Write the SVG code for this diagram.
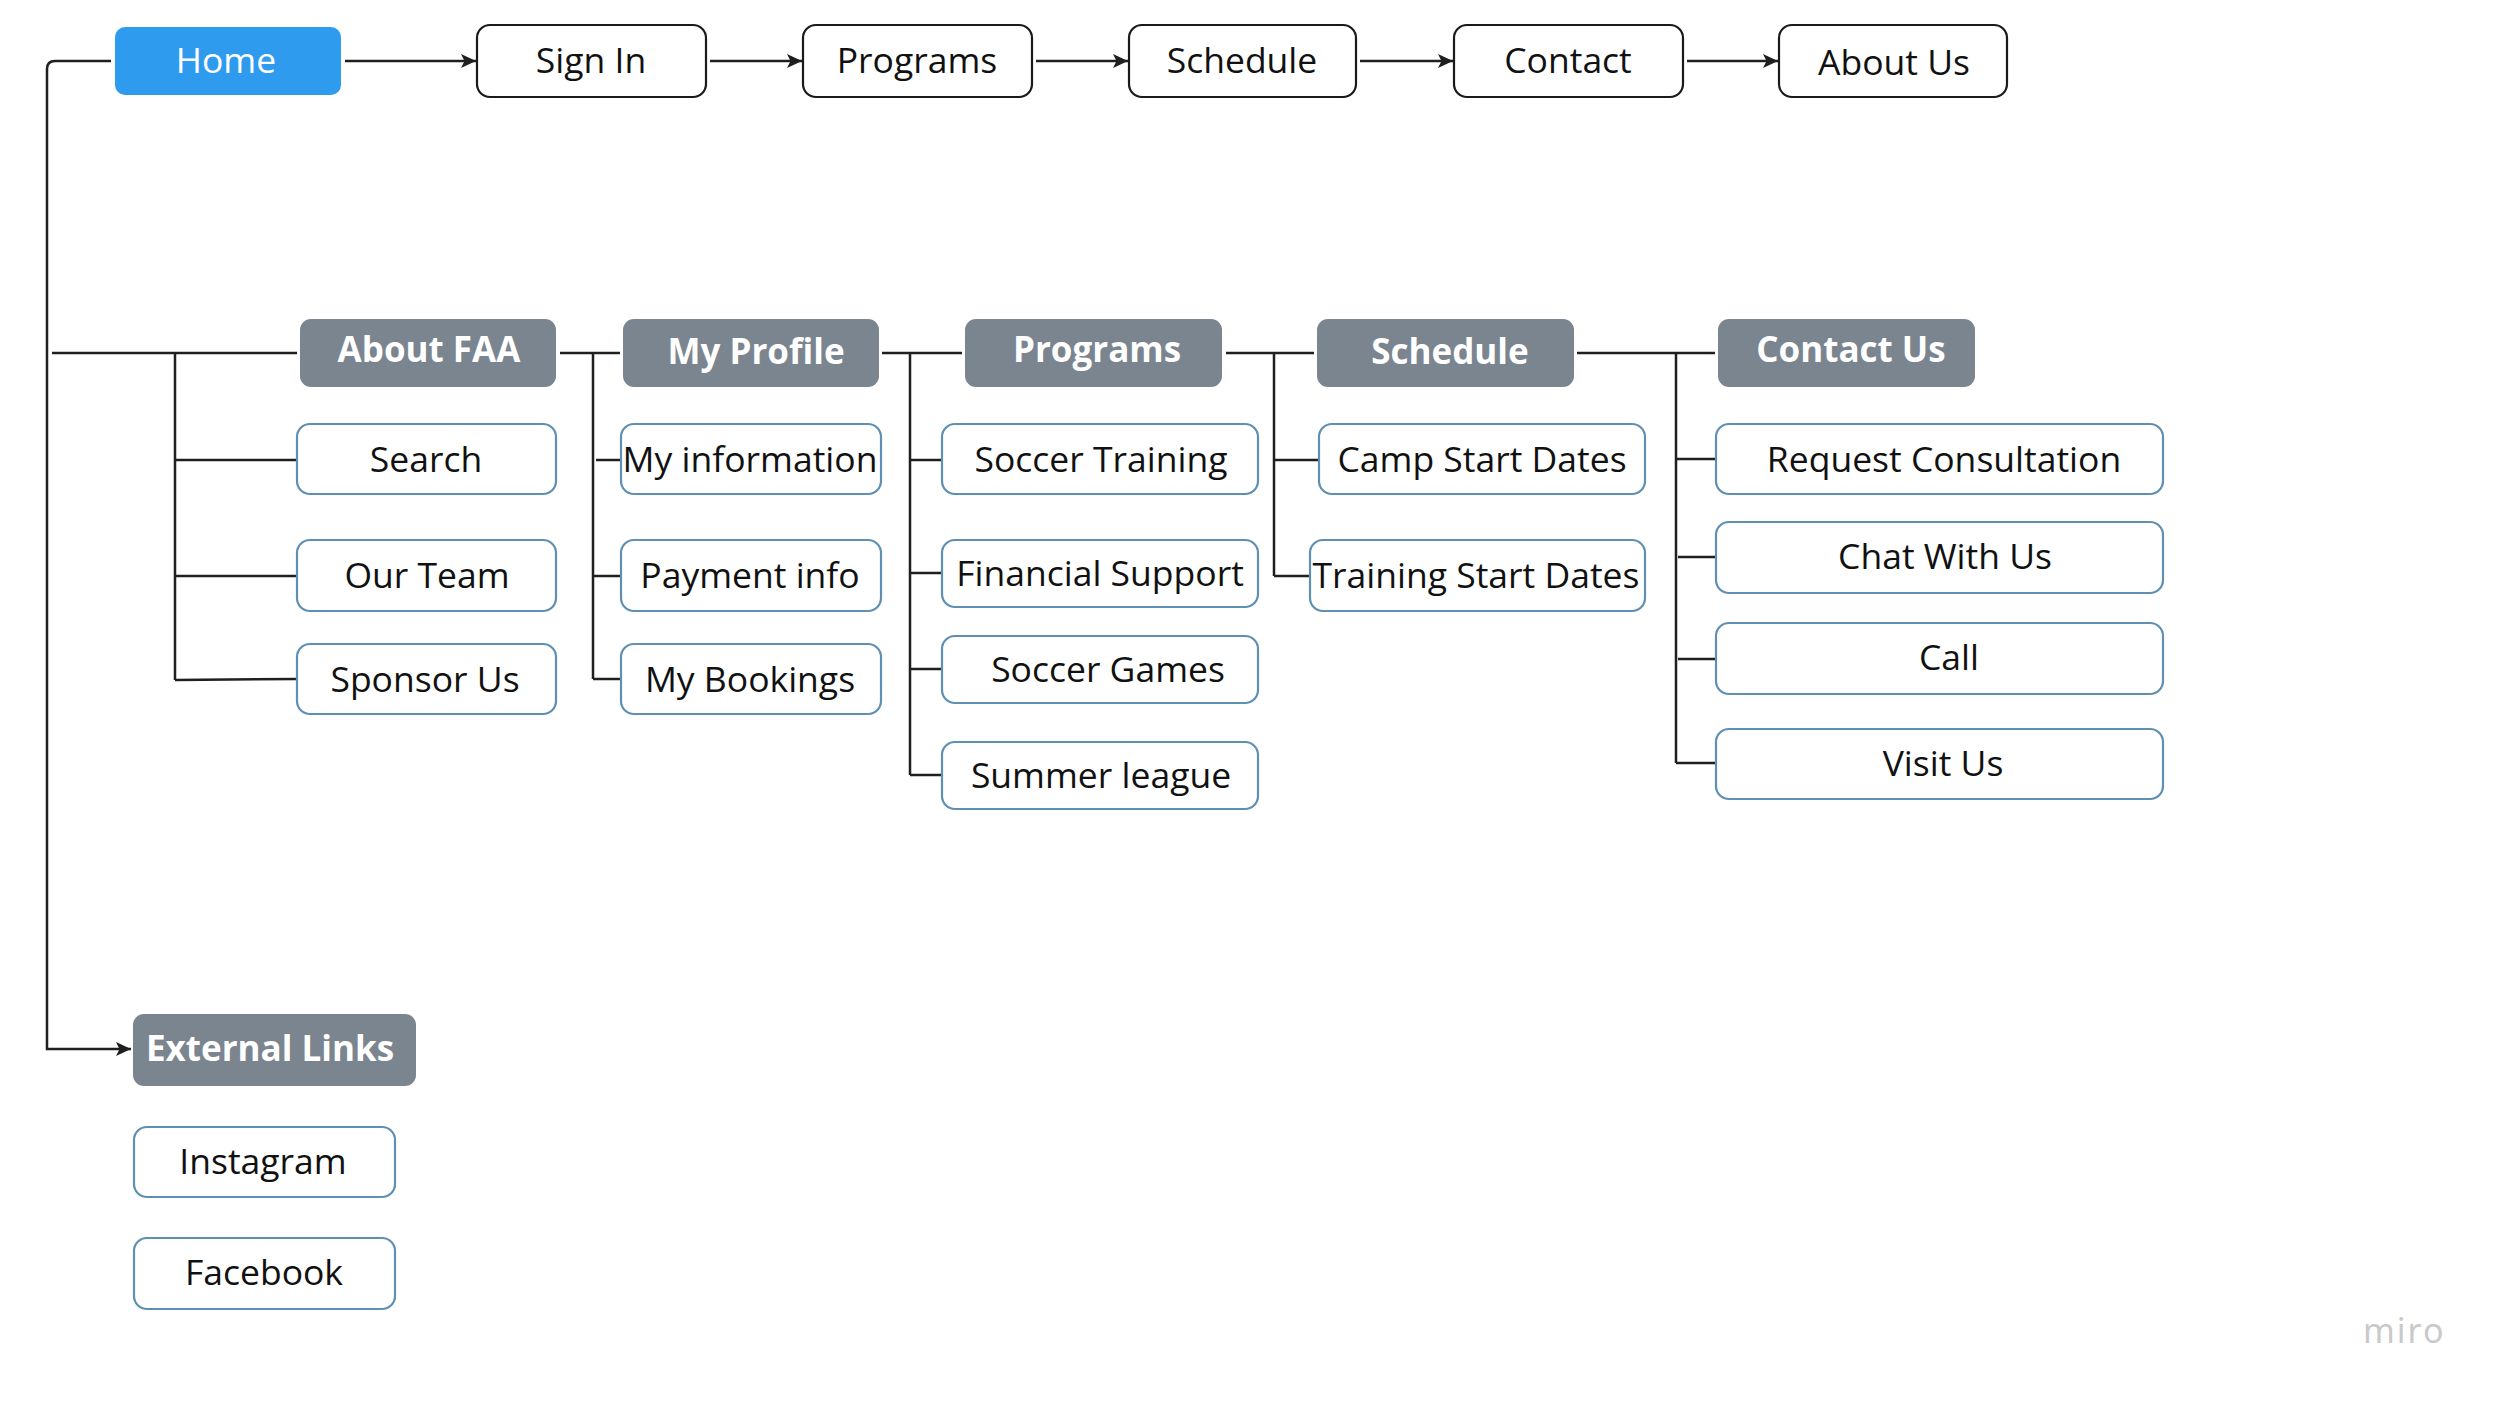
<svg xmlns="http://www.w3.org/2000/svg" width="2500" height="1402" viewBox="0 0 2500 1402">
<style>
  .bg{fill:#ffffff}
  .top rect{fill:#ffffff;stroke:#1a1a1a;stroke-width:2.2}
  .home rect{fill:#2e9bef;stroke:none}
  .hdr rect{fill:#7b8590;stroke:none}
  .sub rect{fill:#ffffff;stroke:#5f8fb2;stroke-width:2.2}
  text{font-family:"Open Sans","Noto Sans","Liberation Sans",sans-serif;font-size:35.5px;text-anchor:middle;fill:#111111}
  .home text{fill:#ffffff}
  .hdr text{fill:#ffffff;font-weight:700;font-size:35px}
  .conn path,.conn line{fill:none;stroke:#1f1f1f;stroke-width:2.5}
  .logo{fill:#c9c9cc;font-size:34px;font-family:"Noto Sans","Open Sans",sans-serif;letter-spacing:2px;text-anchor:start}
</style>
<defs>
  <marker id="arr" markerWidth="16" markerHeight="14" refX="15" refY="7" orient="auto" markerUnits="userSpaceOnUse">
    <path d="M0,0 L15,7 L0,14 L3.5,7 Z" fill="#1f1f1f"/>
  </marker>
</defs>
<rect class="bg" x="0" y="0" width="2500" height="1402"/>

<g id="connectors" class="conn">
  <path d="M111,61 H55 Q47,61 47,69 V1049 H131" marker-end="url(#arr)"/>
  <line x1="345" y1="61" x2="476" y2="61" marker-end="url(#arr)"/>
  <line x1="710" y1="61" x2="802" y2="61" marker-end="url(#arr)"/>
  <line x1="1036" y1="61" x2="1128" y2="61" marker-end="url(#arr)"/>
  <line x1="1360" y1="61" x2="1453" y2="61" marker-end="url(#arr)"/>
  <line x1="1687" y1="61" x2="1778" y2="61" marker-end="url(#arr)"/>
  <line x1="52" y1="353" x2="297" y2="353"/>
  <line x1="560" y1="353" x2="620" y2="353"/>
  <line x1="882" y1="353" x2="962" y2="353"/>
  <line x1="1226" y1="353" x2="1314" y2="353"/>
  <line x1="1577" y1="353" x2="1715" y2="353"/>
  <path d="M175,353 V680"/>
  <line x1="175" y1="460" x2="297" y2="460"/>
  <line x1="175" y1="576" x2="297" y2="576"/>
  <line x1="175" y1="680" x2="297" y2="679"/>
  <path d="M593,353 V679"/>
  <line x1="596" y1="460" x2="621" y2="460"/>
  <line x1="593" y1="576" x2="621" y2="576"/>
  <line x1="593" y1="679" x2="621" y2="679"/>
  <path d="M910,353 V775"/>
  <line x1="910" y1="460" x2="942" y2="460"/>
  <line x1="910" y1="573" x2="942" y2="573"/>
  <line x1="910" y1="669" x2="942" y2="669"/>
  <line x1="910" y1="775" x2="942" y2="775"/>
  <path d="M1274,353 V576"/>
  <line x1="1274" y1="460" x2="1319" y2="460"/>
  <line x1="1274" y1="576" x2="1310" y2="576"/>
  <path d="M1676,353 V763"/>
  <line x1="1676" y1="459" x2="1716" y2="459"/>
  <line x1="1678" y1="557" x2="1716" y2="557"/>
  <line x1="1678" y1="659" x2="1716" y2="659"/>
  <line x1="1676" y1="763" x2="1716" y2="763"/>
</g>

<g id="home" class="home"><rect x="115" y="27" width="226" height="68" rx="10"/><text x="226" y="73">Home</text></g>
<g id="signin" class="top"><rect x="477" y="25" width="229" height="72" rx="13"/><text x="591" y="73">Sign In</text></g>
<g id="programs-top" class="top"><rect x="803" y="25" width="229" height="72" rx="13"/><text x="917" y="73">Programs</text></g>
<g id="schedule-top" class="top"><rect x="1129" y="25" width="227" height="72" rx="13"/><text x="1242" y="73">Schedule</text></g>
<g id="contact-top" class="top"><rect x="1454" y="25" width="229" height="72" rx="13"/><text x="1568" y="73">Contact</text></g>
<g id="aboutus-top" class="top"><rect x="1779" y="25" width="228" height="72" rx="13"/><text x="1894" y="75">About Us</text></g>

<g id="about-faa" class="hdr"><rect x="300" y="319" width="256" height="68" rx="11"/><text x="429" y="362">About FAA</text></g>
<g id="my-profile" class="hdr"><rect x="623" y="319" width="256" height="68" rx="11"/><text x="756" y="364">My Profile</text></g>
<g id="programs-hdr" class="hdr"><rect x="965" y="319" width="257" height="68" rx="11"/><text x="1097" y="362">Programs</text></g>
<g id="schedule-hdr" class="hdr"><rect x="1317" y="319" width="257" height="68" rx="11"/><text x="1450" y="364">Schedule</text></g>
<g id="contact-us" class="hdr"><rect x="1718" y="319" width="257" height="68" rx="11"/><text x="1851" y="362">Contact Us</text></g>
<g id="external-links" class="hdr"><rect x="133" y="1014" width="283" height="72" rx="11"/><text x="270" y="1061">External Links</text></g>

<g id="search" class="sub"><rect x="297" y="424" width="259" height="70" rx="13"/><text x="426" y="472">Search</text></g>
<g id="our-team" class="sub"><rect x="297" y="540" width="259" height="71" rx="13"/><text x="427" y="588">Our Team</text></g>
<g id="sponsor-us" class="sub"><rect x="297" y="644" width="259" height="70" rx="13"/><text x="425" y="692">Sponsor Us</text></g>

<g id="my-information" class="sub"><rect x="621" y="424" width="260" height="70" rx="13"/><text x="750" y="472">My information</text></g>
<g id="payment-info" class="sub"><rect x="621" y="540" width="260" height="71" rx="13"/><text x="750" y="588">Payment info</text></g>
<g id="my-bookings" class="sub"><rect x="621" y="644" width="260" height="70" rx="13"/><text x="750" y="692">My Bookings</text></g>

<g id="soccer-training" class="sub"><rect x="942" y="424" width="316" height="70" rx="13"/><text x="1101" y="472">Soccer Training</text></g>
<g id="financial-support" class="sub"><rect x="942" y="540" width="316" height="67" rx="13"/><text x="1100" y="586">Financial Support</text></g>
<g id="soccer-games" class="sub"><rect x="942" y="636" width="316" height="67" rx="13"/><text x="1108" y="682">Soccer Games</text></g>
<g id="summer-league" class="sub"><rect x="942" y="742" width="316" height="67" rx="13"/><text x="1101" y="788">Summer league</text></g>

<g id="camp-start-dates" class="sub"><rect x="1319" y="424" width="326" height="70" rx="13"/><text x="1482" y="472">Camp Start Dates</text></g>
<g id="training-start-dates" class="sub"><rect x="1310" y="540" width="335" height="71" rx="13"/><text x="1476" y="588">Training Start Dates</text></g>

<g id="request-consultation" class="sub"><rect x="1716" y="424" width="447" height="70" rx="13"/><text x="1944" y="472">Request Consultation</text></g>
<g id="chat-with-us" class="sub"><rect x="1716" y="522" width="447" height="71" rx="13"/><text x="1945" y="569">Chat With Us</text></g>
<g id="call" class="sub"><rect x="1716" y="623" width="447" height="71" rx="13"/><text x="1949" y="670">Call</text></g>
<g id="visit-us" class="sub"><rect x="1716" y="729" width="447" height="70" rx="13"/><text x="1943" y="776">Visit Us</text></g>

<g id="instagram" class="sub"><rect x="134" y="1127" width="261" height="70" rx="13"/><text x="263" y="1174">Instagram</text></g>
<g id="facebook" class="sub"><rect x="134" y="1238" width="261" height="71" rx="13"/><text x="264" y="1285">Facebook</text></g>

<text class="logo" x="2363" y="1343">miro</text>
</svg>
